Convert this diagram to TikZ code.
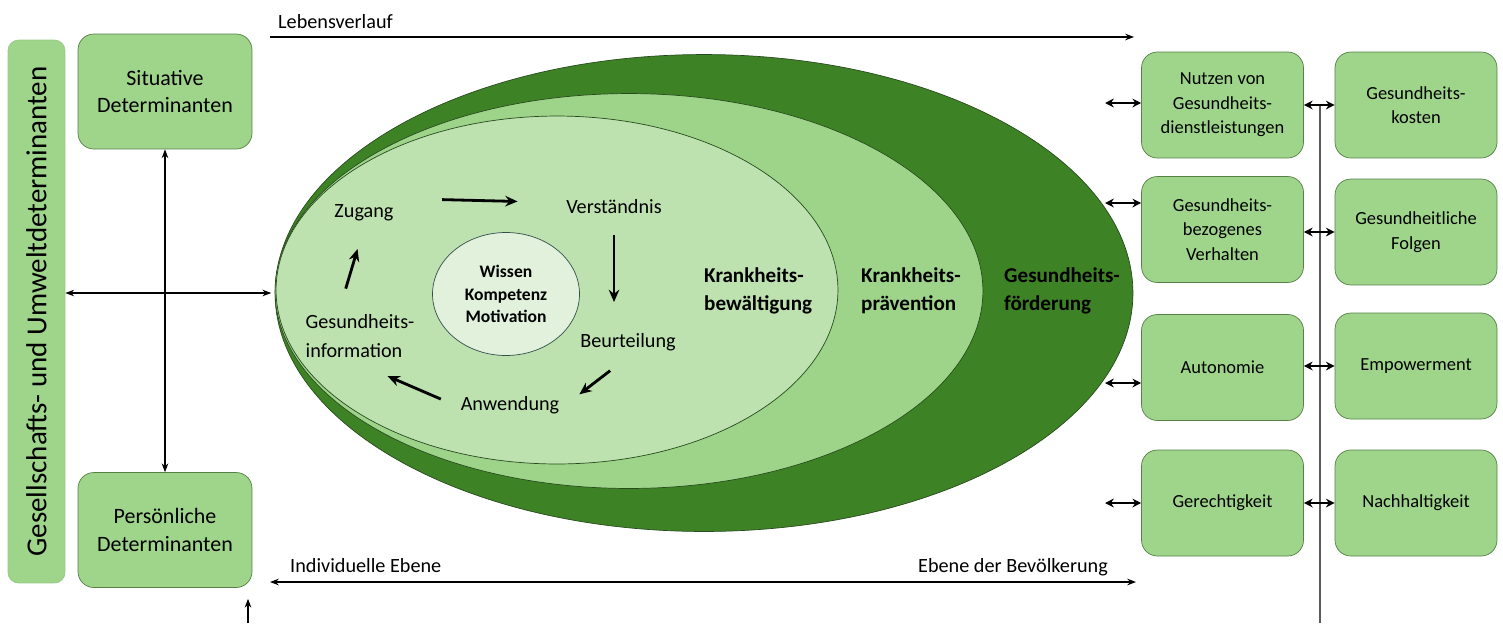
\documentclass[tikz,border=0pt]{standalone}
\usepackage{fontspec}
\setmainfont{Carlito}
\usetikzlibrary{shapes.geometric, arrows.meta, positioning, calc}
\definecolor{box_green}{RGB}{158, 213, 138}
\definecolor{box_border}{RGB}{86, 128, 70}
\definecolor{bar_border}{RGB}{150, 200, 130}
\definecolor{dark_green}{RGB}{62, 130, 38}
\definecolor{mid_green}{RGB}{157, 212, 138}
\definecolor{light_green}{RGB}{190, 225, 176}
\definecolor{pale_green}{RGB}{226, 241, 220}
\definecolor{ring_line}{RGB}{40, 75, 30}
\definecolor{core_line}{RGB}{50, 80, 75}
\definecolor{axis_gray}{RGB}{90, 90, 90}

\begin{document}
\begin{tikzpicture}[
    x=0.02cm, y=-0.02cm,
    determinant/.style={
        rectangle,
        draw=box_border,
        fill=box_green,
        rounded corners=9pt,
        minimum width=3.48cm,
        minimum height=2.3cm,
        align=center,
        font=\fontsize{12.5}{15.5}\selectfont
    },
    outcome/.style={
        rectangle,
        draw=box_border,
        fill=box_green,
        rounded corners=9pt,
        minimum width=3.24cm,
        minimum height=2.12cm,
        inner sep=2pt,
        align=center,
        font=\fontsize{10.5}{14}\selectfont
    },
    sphere/.style={
        ellipse,
        draw=ring_line,
        fill=#1,
        inner sep=0pt
    },
    field/.style={
        align=left,
        font=\fontsize{12}{16}\selectfont\bfseries
    },
    phase/.style={
        align=left,
        font=\fontsize{11.5}{17}\selectfont
    },
    cycle_arrow/.style={
        -{Stealth[length=7pt, width=6pt]},
        line width=1.6pt
    },
    axis_arrow/.style={
        -{Stealth[length=5pt]},
        line width=0.6pt
    },
    dbl_arrow/.style={
        {Stealth[length=5pt]}-{Stealth[length=5pt]},
        line width=0.6pt
    },
    link_arrow/.style={
        {Stealth[length=5pt, width=5pt]}-{Stealth[length=5pt, width=5pt]},
        line width=1pt
    }
]
\useasboundingbox (0,0) rectangle (1503,623);

% Left side - determinants
\node[rectangle, draw=bar_border, fill=box_green, rounded corners=6pt,
      minimum width=10.86cm, minimum height=1.14cm, rotate=90,
      font=\fontsize{16.5}{18}\selectfont] (umwelt) at (36.5,311.5)
      {Gesellschafts- und Umweltdeterminanten};
\node[determinant] (situativ) at (165,91.5) {Situative\\Determinanten};
\node[determinant] (persoenlich) at (165,530) {Persönliche\\Determinanten};

% Nested spheres
\node[sphere=dark_green, minimum width=17.16cm, minimum height=9.54cm] (foerderung) at (704,293) {};
\node[sphere=mid_green, minimum width=14.16cm, minimum height=7.9cm] (praevention) at (629,291) {};
\node[sphere=light_green, minimum width=11.24cm, minimum height=6.96cm] (bewaeltigung) at (557,290) {};
\node[ellipse, draw=core_line, fill=pale_green, minimum width=2.94cm, minimum height=2.46cm,
      inner sep=0pt, align=center, font=\fontsize{10}{13}\selectfont\bfseries] (kern) at (506,294)
      {Wissen\\Kompetenz\\Motivation};

% Field labels
\node[field, anchor=west] (l_bew) at (698,291) {Krankheits-\\bewältigung};
\node[field, anchor=west] (l_prae) at (855,291) {Krankheits-\\prävention};
\node[field, anchor=west] (l_foe) at (998,291) {Gesundheits-\\förderung};

% Health literacy cycle
\node[phase] (zugang) at (364,213) {Zugang};
\node[phase] (verstaendnis) at (614,207) {Verständnis};
\node[phase] (beurteilung) at (628,342) {Beurteilung};
\node[phase] (anwendung) at (510,405) {Anwendung};
\node[phase] (info) at (360,336) {Gesundheits-\\information};

\draw[cycle_arrow, shorten <=0.85cm, shorten >=0.85cm] (zugang.north east) -- ([yshift=-5pt]verstaendnis.north west);
\draw[cycle_arrow, shorten <=0.3cm, shorten >=0.5cm] (verstaendnis.south) -- (verstaendnis.south |- beurteilung.north);
\draw[cycle_arrow, shorten <=0.45cm, shorten >=0.35cm] (beurteilung.south) -- (anwendung.east);
\draw[cycle_arrow, shorten <=0.3cm, shorten >=0.6cm] (anwendung.west) -- (info.south);
\draw[cycle_arrow, shorten <=0.4cm, shorten >=0.45cm] ([xshift=-0.4cm]info.north) -- (zugang.south);

% Connections on the left
\draw[dbl_arrow] (situativ.south) -- (persoenlich.north);
\draw[dbl_arrow] (umwelt.south |- foerderung.west) -- ([xshift=-2pt]foerderung.west);
\coordinate (unten) at (248,623);
\draw[axis_arrow] (unten) -- ([yshift=-0.22cm]persoenlich.south -| unten);

% Life course and levels
\coordinate (lv_start) at (270,37);
\coordinate (lv_end) at (1134,37);
\draw[axis_arrow] (lv_start) -- (lv_end);
\node[anchor=base west, font=\fontsize{11.5}{14}\selectfont] (lebensverlauf) at (272,28) {Lebensverlauf};

\coordinate (eb_start) at (270,582);
\coordinate (eb_end) at (1136,582);
\draw[dbl_arrow] (eb_start) -- (eb_end);
\node[anchor=base west, font=\fontsize{11.5}{14}\selectfont] (individuell) at (284,572) {Individuelle Ebene};
\node[anchor=base east, font=\fontsize{11.5}{14}\selectfont] (bevoelkerung) at (1114,572) {Ebene der Bevölkerung};

% Right side - outcomes
\node[outcome] (nutzen) at (1222.5,105) {Nutzen von\\Gesundheits-\\dienstleistungen};
\node[outcome] (verhalten) at (1222.5,229.5) {Gesundheits-\\bezogenes\\Verhalten};
\node[outcome] (autonomie) at (1222.5,367.5) {Autonomie};
\node[outcome] (gerechtigkeit) at (1222.5,503) {Gerechtigkeit};
\node[outcome] (kosten) at (1416,105) {Gesundheits-\\kosten};
\node[outcome] (folgen) at (1416,232) {Gesundheitliche\\Folgen};
\node[outcome] (empowerment) at (1416,366) {Empowerment};
\node[outcome] (nachhaltigkeit) at (1416,503) {Nachhaltigkeit};

% Vertical axis between outcome columns
\coordinate (achse) at (1320,623);
\draw[axis_gray, line width=0.6pt] (achse) -- (achse |- nutzen.east);

% Arrows into outcomes
\coordinate (r1) at (1105,103);
\coordinate (r2) at (1105,203);
\coordinate (r3) at (1105,383);
\coordinate (r4) at (1105,503);
\draw[link_arrow] (r1) -- (r1 -| nutzen.west);
\draw[link_arrow] (r2) -- (r2 -| verhalten.west);
\draw[link_arrow] (r3) -- (r3 -| autonomie.west);
\draw[link_arrow] (r4) -- (r4 -| gerechtigkeit.west);

\draw[link_arrow] (nutzen.east |- kosten.west) -- (kosten.west);
\draw[link_arrow] (verhalten.east |- folgen.west) -- (folgen.west);
\draw[link_arrow] (autonomie.east |- empowerment.west) -- (empowerment.west);
\draw[link_arrow] (gerechtigkeit.east) -- (nachhaltigkeit.west);

\end{tikzpicture}
\end{document}
